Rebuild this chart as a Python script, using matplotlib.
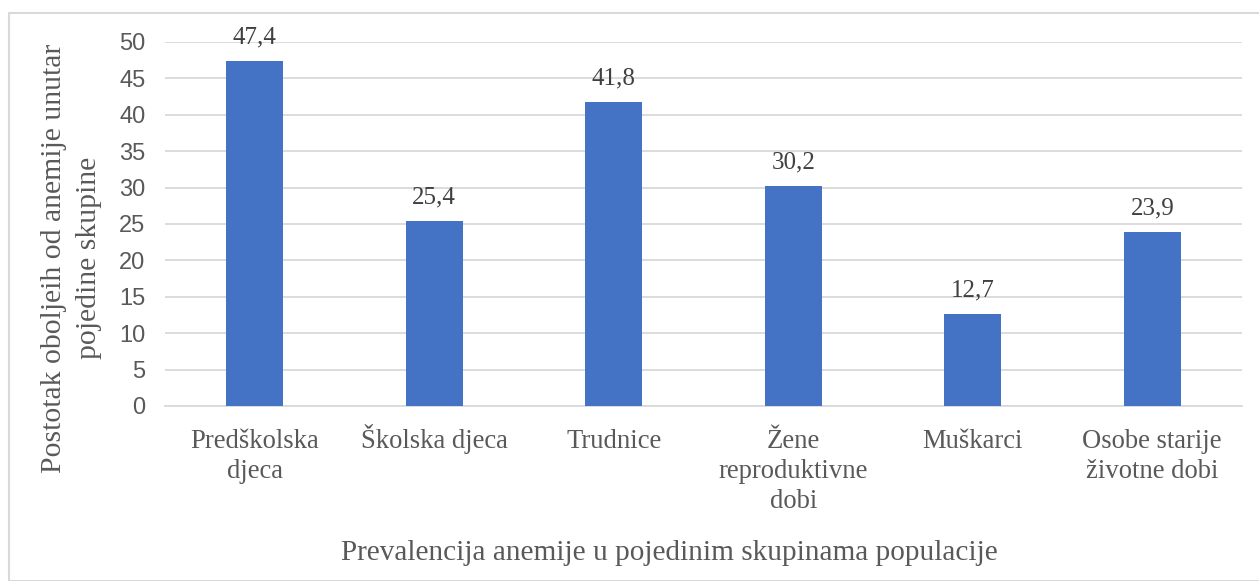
import matplotlib.pyplot as plt
from matplotlib.patches import Rectangle

categories = ["Pred\u0161kolska\ndjeca", "\u0160kolska djeca", "Trudnice",
              "\u017dene\nreproduktivne\ndobi", "Mu\u0161karci", "Osobe starije\n\u017eivotne dobi"]
values = [47.4, 25.4, 41.8, 30.2, 12.7, 23.9]
value_labels = ["47,4", "25,4", "41,8", "30,2", "12,7", "23,9"]
yticks = [0, 5, 10, 15, 20, 25, 30, 35, 40, 45, 50]

W, H = 1259, 581
fig = plt.figure(figsize=(W / 100, H / 100), dpi=100)
txt = "#595959"
serif = "Liberation Serif"
sans = "Liberation Sans"

# border
fig.patches.append(Rectangle((8.5 / W, 0), 1.2, (H - 12.5) / H, transform=fig.transFigure,
                             fill=False, edgecolor="#d9d9d9", linewidth=1.5))

left, right, top, bottom = 165, 1242, 42, 406
ax = fig.add_axes([left / W, 1 - bottom / H, (right - left) / W, (bottom - top) / H])
x = list(range(len(categories)))
ax.bar(x, values, width=0.32, color="#4472C4", zorder=3)
ax.set_xlim(-0.5, len(categories) - 0.5)
ax.set_ylim(0, 50)
ax.set_yticks(yticks)
ax.set_yticklabels([str(t) for t in yticks], family=sans, fontsize=17, color=txt)
ax.set_xticks(x)
ax.set_xticklabels([])
ax.tick_params(axis="both", length=0)
ax.tick_params(axis="y", pad=14)
ax.grid(axis="y", color="#d9d9d9", linewidth=1.3, zorder=0)
for s in ["top", "right", "left"]:
    ax.spines[s].set_visible(False)
ax.spines["bottom"].set_color("#d9d9d9")
ax.spines["bottom"].set_linewidth(1.3)

# category labels: first-line baseline fixed at 42 px below the axis
cat_fs, cat_ls = 19.2, 1.25
step_pt = 21.6
for xi, cat in zip(x, categories):
    n = cat.count("\n")
    ax.annotate(cat, (xi, 0), xytext=(0, -30.2 - n * step_pt), textcoords="offset points",
                xycoords=("data", "axes fraction"), ha="center", va="baseline",
                family=serif, fontsize=cat_fs, color=txt, linespacing=cat_ls,
                multialignment="center")

for xi, v, lab in zip(x, values, value_labels):
    ax.annotate(lab, (xi, v), xytext=(0, 9), textcoords="offset points", ha="center",
                va="bottom", family=serif, fontsize=18, color="#404040")

fig.text(669 / W, 1 - 553 / H, "Prevalencija anemije u pojedinim skupinama populacije",
         ha="center", va="center", family=serif, fontsize=21.1, color=txt)
fig.text(72 / W, 1 - 258 / H, "Postotak oboljeih od anemije unutar\npojedine skupine",
         ha="center", va="center", rotation=90, family=serif, fontsize=21.4, color=txt,
         linespacing=1.45, multialignment="center")

fig.savefig("out.png", dpi=100, facecolor="white")
